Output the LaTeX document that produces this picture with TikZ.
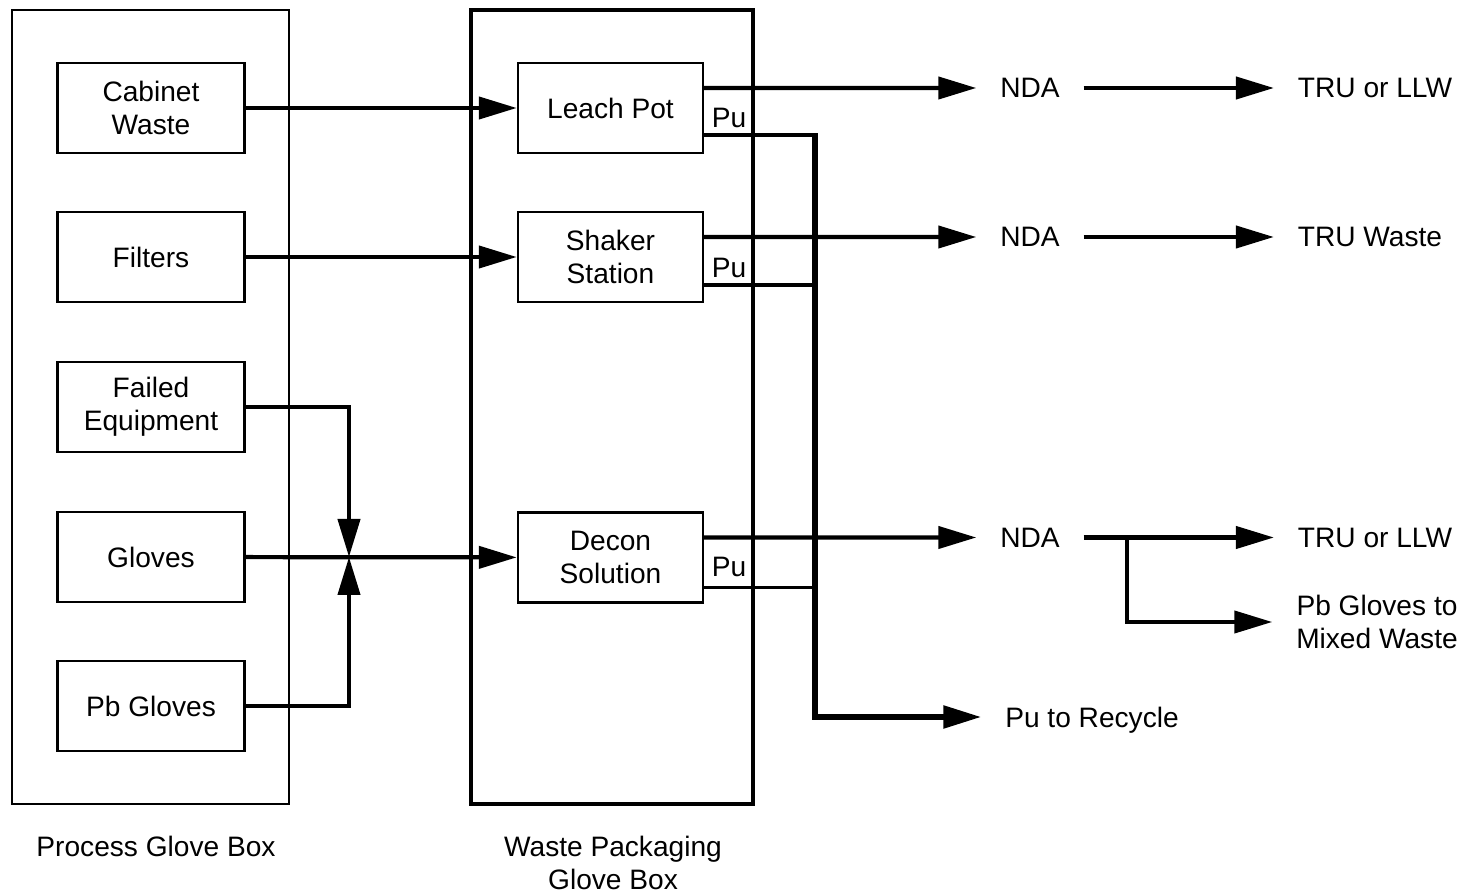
\documentclass[tikz,border=0pt]{standalone}
\usepackage{fontspec}
\setmainfont{Liberation Sans}
\usetikzlibrary{positioning, arrows.meta}

\begin{document}
\begin{tikzpicture}[
    font=\fontsize{8}{9.4}\selectfont,
    box/.style={draw, line width=0.7pt, minimum width=1.87cm, minimum height=0.90cm, align=center},
    glovebox/.style={draw, minimum height=7.94cm},
    lbl/.style={inner sep=0pt, outer sep=0.24cm, align=center},
    txt/.style={lbl, text depth=0pt},
    flow/.style={line width=1.2pt, -{Triangle[length=0.38cm, width=0.22cm]}},
    puline/.style={line width=1pt},
    recycleline/.style={line width=1.6pt, -{Triangle[length=0.38cm, width=0.22cm]}}
]
    \useasboundingbox (0,0) rectangle (14.65,-8.95);

    % Glove boxes
    \node[glovebox, line width=0.7pt, minimum width=2.77cm] (pgb) at (1.505,-4.07) {};
    \node[glovebox, line width=0.9pt, minimum width=2.82cm] (wpb) at (6.12,-4.07) {};
    \node (pgblbl) at (1.56,-8.46) {Process Glove Box};
    \node[align=center] (wpblbl) at (6.13,-8.63) {Waste Packaging\\Glove Box};

    % Process boxes
    \node[box] (cab) at (1.51,-1.08) {Cabinet\\Waste};
    \node[box] (filt) at (1.51,-2.57) {Filters};
    \node[box] (fail) at (1.51,-4.07) {Failed\\Equipment};
    \node[box] (glov) at (1.51,-5.57) {Gloves};
    \node[box] (pbg) at (1.51,-7.06) {Pb Gloves};

    % Packaging boxes
    \node[box, minimum width=1.85cm] (leach) at (6.105,-1.08) {Leach Pot};
    \node[box, minimum width=1.85cm] (shak) at (6.105,-2.57) {Shaker\\Station};
    \node[box, minimum width=1.85cm] (decon) at (6.105,-5.575) {Decon\\Solution};

    \node (pu1) at (7.29,-1.18) {Pu};
    \node (pu2) at (7.29,-2.68) {Pu};
    \node (pu3) at (7.29,-5.67) {Pu};

    % Outputs
    \node[txt] (nda1) at (10.30,-0.88) {NDA};
    \node[txt] (nda2) at (10.30,-2.37) {NDA};
    \node[txt] (nda3) at (10.30,-5.375) {NDA};
    \node[txt] (tru1) at (13.75,-0.88) {TRU or LLW};
    \node[txt] (tru2) at (13.70,-2.37) {TRU Waste};
    \node[txt] (tru3) at (13.75,-5.375) {TRU or LLW};
    \node[lbl] (mixed) at (13.77,-6.22) {Pb Gloves to\\Mixed Waste};
    \node[txt] (recycle) at (10.92,-7.17) {Pu to Recycle};

    \coordinate (mix) at (3.49,-5.57);
    \coordinate (putop) at (8.15,-1.335);
    \coordinate (pubot) at (8.15,-7.17);
    \coordinate (br) at (11.27,-5.375);

    % Connections
    \draw[flow] (cab) -- (leach);
    \draw[flow] (filt) -- (shak);
    \draw[flow] (glov) -- (decon);
    \draw[flow] (fail) -| (mix);
    \draw[flow] (pbg) -| (mix);

    \draw[flow] ([yshift=2mm]leach.east) -- (nda1);
    \draw[flow] ([yshift=2mm]shak.east) -- (nda2);
    \draw[flow] ([yshift=2mm]decon.east) -- (nda3);
    \draw[flow] (nda1) -- (tru1);
    \draw[flow] (nda2) -- (tru2);
    \draw[flow] (nda3) -- (tru3);
    \draw[flow] (br) |- (mixed);

    \draw[puline] ([yshift=-2.7mm]leach.east) -- ([yshift=-2.7mm]leach.east -| putop);
    \draw[puline] ([yshift=-2.8mm]shak.east) -- ([yshift=-2.8mm]shak.east -| putop);
    \draw[puline] ([yshift=-3mm]decon.east) -- ([yshift=-3mm]decon.east -| putop);
    \draw[recycleline] (putop) -- (pubot) -- (recycle);
\end{tikzpicture}
\end{document}
